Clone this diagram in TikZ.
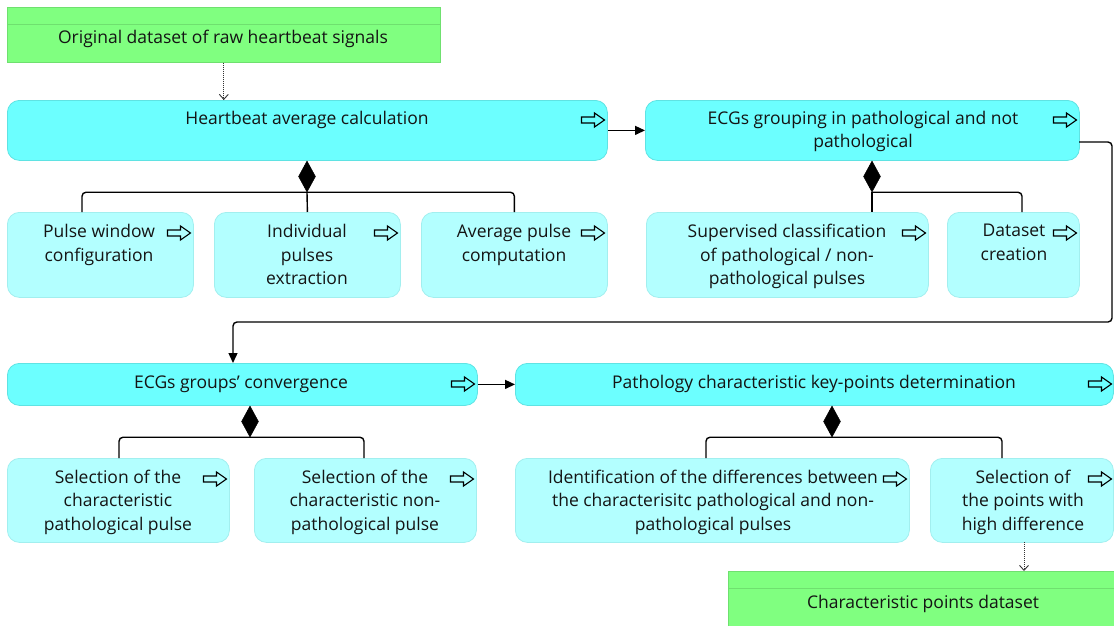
\documentclass[tikz,border=0pt]{standalone}
\usepackage{fontspec}
\setmainfont{Open Sans}
\usetikzlibrary{arrows.meta,shapes.geometric}
\definecolor{maincyan}{HTML}{6CFFFF}
\definecolor{subcyan}{HTML}{B3FFFF}
\definecolor{mainedge}{HTML}{5FE3E3}
\definecolor{subedge}{HTML}{A2EFEF}
\definecolor{datagreen}{HTML}{80FF80}
\definecolor{greenedge}{HTML}{6FE06F}
\definecolor{txt}{HTML}{141414}
\tikzset{
  mainbox/.style={draw=mainedge, fill=maincyan, rounded corners=12pt, line width=0.8pt, anchor=north west, inner sep=0pt},
  subbox/.style={draw=subedge, fill=subcyan, rounded corners=12pt, line width=0.8pt, anchor=north west, inner sep=0pt},
  databox/.style={draw=greenedge, fill=datagreen, line width=0.6pt, anchor=north west, inner sep=0pt},
  lbl/.style={font=\fontsize{17.5}{23.4}\selectfont, align=center, anchor=north, inner sep=0pt, text=txt},
  conn/.style={line width=1.4pt, rounded corners=4pt},
  flowarrow/.style={conn, -{Triangle[length=10pt,width=9pt]}},
  dataflow/.style={line width=0.9pt, black!80, dash pattern=on 1pt off 1pt, -{Straight Barb[length=5pt,width=9pt]}},
  agg/.style={diamond, fill=black, draw=black, line width=0.5pt, inner sep=0pt, minimum width=17pt, minimum height=31pt},
  pics/flowicon/.style={code={
    \draw[line width=1.1pt, line join=miter, black]
      (-11.5,-3) -- (1.5,-3) -- (1.5,-7) -- (11.5,0) -- (1.5,7) -- (1.5,3) -- (-11.5,3) -- cycle;}}
}
\begin{document}
\begin{tikzpicture}[x=1pt,y=-1pt]
\useasboundingbox (0,0) rectangle (1114,626);

% data stores
\node[databox, minimum width=433pt, minimum height=55pt] (src) at (7,7) {};
\draw[greenedge, line width=0.6pt] (7,24) -- (440,24);
\node[lbl] (srct) at (223,29.5) {Original dataset of raw heartbeat signals};

\node[databox, minimum width=390pt, minimum height=58pt] (out) at (728,571) {};
\draw[greenedge, line width=0.6pt] (728,588) -- (1114,588);
\node[lbl] (outt) at (923,594.5) {Characteristic points dataset};

% main process boxes
\node[mainbox, minimum width=600pt, minimum height=60pt] (hb) at (7,100) {};
\node[lbl] (hbt) at (307,111) {Heartbeat average calculation};
\pic at (593,120) {flowicon};

\node[mainbox, minimum width=434pt, minimum height=60pt] (grp) at (645,100) {};
\node[lbl] (grpt) at (863,111) {ECGs grouping in pathological and not\\pathological};
\pic at (1065,120) {flowicon};

\node[mainbox, minimum width=470pt, minimum height=42pt] (cv) at (7,363) {};
\node[lbl] (cvt) at (241,375.5) {ECGs groups’ convergence};
\pic at (463,384) {flowicon};

\node[mainbox, minimum width=598pt, minimum height=42pt] (pk) at (515,363) {};
\node[lbl] (pkt) at (814,374.8) {Pathology characteristic key-points determination};
\pic at (1100,384) {flowicon};

% sub process boxes row 1
\node[subbox, minimum width=186pt, minimum height=85pt] (pw) at (7,212) {};
\node[lbl] (pwt) at (99,224.2) {Pulse window\\configuration};
\pic at (179,233) {flowicon};

\node[subbox, minimum width=186pt, minimum height=85pt] (ip) at (214,212) {};
\node[lbl] (ipt) at (307,224.2) {Individual\\pulses\\extraction};
\pic at (386,233) {flowicon};

\node[subbox, minimum width=186pt, minimum height=85pt] (ap) at (421,212) {};
\node[lbl] (apt) at (514,224.2) {Average pulse\\computation};
\pic at (593,233) {flowicon};

\node[subbox, minimum width=282pt, minimum height=85pt] (sc) at (646,212) {};
\node[lbl] (sct) at (787,224.2) {Supervised classification\\of pathological / non-\\pathological pulses};
\pic at (914,233) {flowicon};

\node[subbox, minimum width=132pt, minimum height=85pt] (dc) at (947,212) {};
\node[lbl] (dct) at (1014,224.2) {Dataset\\creation};
\pic at (1065,233) {flowicon};

% sub process boxes row 2
\node[subbox, minimum width=222pt, minimum height=84pt] (s1) at (7,458) {};
\node[lbl] (s1t) at (118,470) {Selection of the\\characteristic\\pathological pulse};
\pic at (215,479) {flowicon};

\node[subbox, minimum width=222pt, minimum height=84pt] (s2) at (254,458) {};
\node[lbl] (s2t) at (365,470) {Selection of the\\characteristic non-\\pathological pulse};
\pic at (462,479) {flowicon};

\node[subbox, minimum width=394pt, minimum height=84pt] (id) at (515,458) {};
\node[lbl] (idt) at (713,470) {Identification of the differences between\\the characterisitc pathological and non-\\pathological pulses};
\pic at (895,479) {flowicon};

\node[subbox, minimum width=183pt, minimum height=84pt] (sp) at (930,458) {};
\node[lbl] (spt) at (1023,470) {Selection of\\the points with\\high difference};
\pic at (1100,479) {flowicon};

% aggregation diamonds
\node[agg] (hbd) at (307,176.5) {};
\node[agg] (grpd) at (872,176.5) {};
\node[agg] (cvd) at (250,421.5) {};
\node[agg] (pkd) at (832,421.5) {};

% branch end points
\coordinate (pwin) at (82,212);
\coordinate (scin) at (872,212);
\coordinate (dcin) at (1022,212);
\coordinate (s1in) at (119,458);
\coordinate (s2in) at (364,458);
\coordinate (idin) at (706,458);
\coordinate (spin) at (1002,458);

\draw[conn] (pwin) |- (hbd.south) -| (ap.north);
\draw[conn] (hbd.south) -- (ip.north);
\draw[conn] (grpd.south) -- (scin);
\draw[conn] (grpd.south) -| (dcin);
\draw[conn] (s1in) |- (cvd.south) -| (s2in);
\draw[conn] (idin) |- (pkd.south) -| (spin);

% flows
\draw[dataflow] (src.south) -- (src.south |- hb.north);
\draw[flowarrow] (hb.east) -- (grp.west);
\coordinate (gout) at (1079,142);
\coordinate (gturn) at (1112,322);
\coordinate (cvin) at (233,363);
\draw[flowarrow] (gout) -| (gturn) -| (cvin);
\draw[flowarrow] (cv.east) -- (pk.west);
\coordinate (spout) at (1024,542);
\draw[dataflow] (spout) -- (spout |- out.north);
\end{tikzpicture}
\end{document}
